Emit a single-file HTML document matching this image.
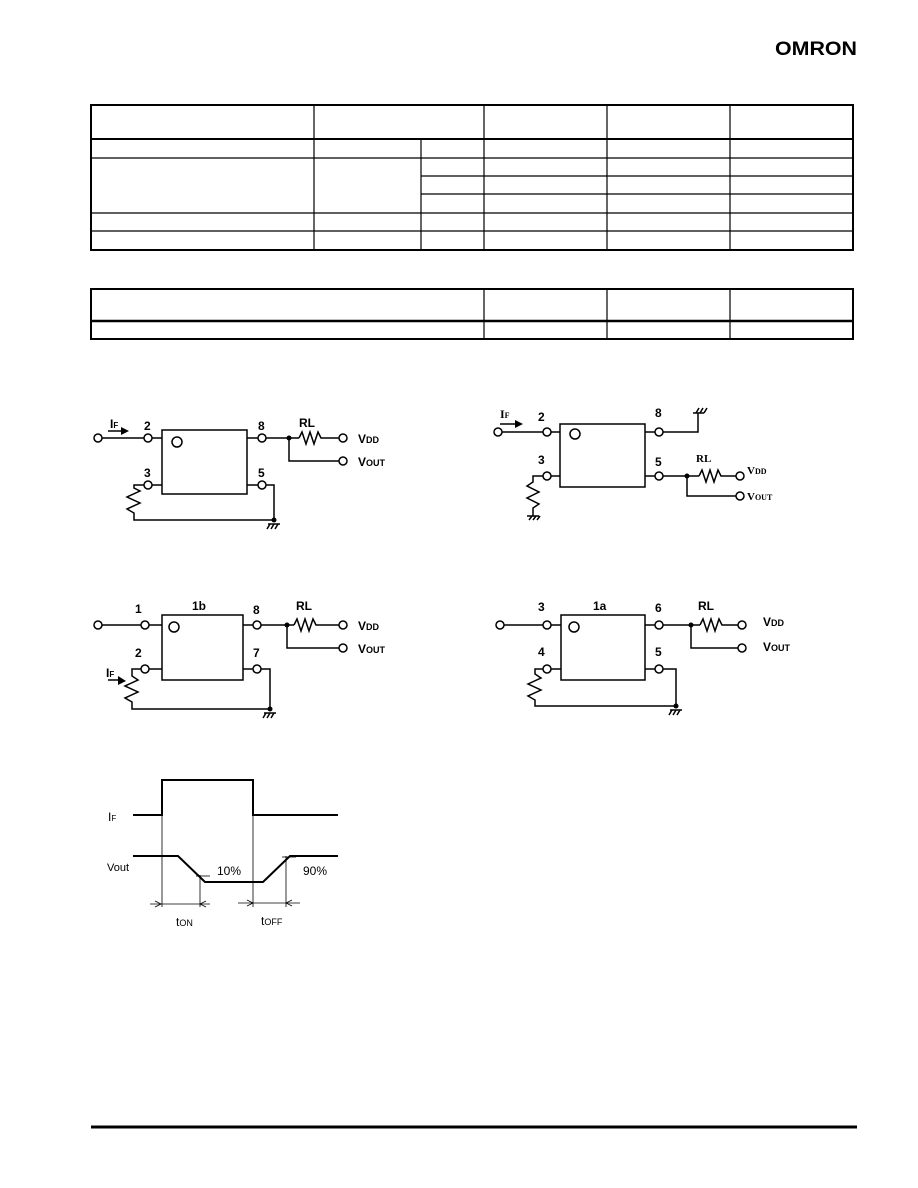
<!DOCTYPE html>
<html><head><meta charset="utf-8"><style>
body{margin:0;background:#fff;}
svg{display:block;font-family:"Liberation Sans",Arial,sans-serif;}
</style></head><body>
<svg width="918" height="1188" viewBox="0 0 918 1188" xmlns="http://www.w3.org/2000/svg">
<text x="775" y="55" font-size="19" font-weight="bold" textLength="82" lengthAdjust="spacingAndGlyphs">OMRON</text>
<g stroke="#000" fill="none">
<rect x="91" y="105" width="762" height="145" stroke-width="2"/>
<line x1="91" y1="139" x2="853" y2="139" stroke-width="2"/>
<line x1="91" y1="158" x2="853" y2="158" stroke-width="1.2"/>
<line x1="421" y1="176" x2="853" y2="176" stroke-width="1.2"/>
<line x1="421" y1="194" x2="853" y2="194" stroke-width="1.2"/>
<line x1="91" y1="213" x2="853" y2="213" stroke-width="1.2"/>
<line x1="91" y1="231" x2="853" y2="231" stroke-width="1.2"/>
<line x1="314" y1="105" x2="314" y2="250" stroke-width="1.2"/>
<line x1="421" y1="139" x2="421" y2="250" stroke-width="1.2"/>
<line x1="484" y1="105" x2="484" y2="250" stroke-width="1.2"/>
<line x1="607" y1="105" x2="607" y2="250" stroke-width="1.2"/>
<line x1="730" y1="105" x2="730" y2="250" stroke-width="1.2"/>
<rect x="91" y="289" width="762" height="50" stroke-width="2"/>
<line x1="91" y1="321" x2="853" y2="321" stroke-width="2.5"/>
<line x1="484" y1="289" x2="484" y2="339" stroke-width="1.2"/>
<line x1="607" y1="289" x2="607" y2="339" stroke-width="1.2"/>
<line x1="730" y1="289" x2="730" y2="339" stroke-width="1.2"/>
<line x1="91" y1="1127" x2="857" y2="1127" stroke-width="3"/>
</g>

<!-- Circuit 1 -->
<g stroke="#000" fill="none" stroke-width="1.5">
<rect x="162" y="430" width="85" height="64"/>
<circle cx="177" cy="442" r="5"/>
<circle cx="98" cy="438" r="4"/><line x1="102" y1="438" x2="144" y2="438"/>
<circle cx="148" cy="438" r="4"/><line x1="152" y1="438" x2="162" y2="438"/>
<circle cx="148" cy="485" r="4"/><line x1="152" y1="485" x2="162" y2="485"/>
<circle cx="262" cy="438" r="4"/><line x1="247" y1="438" x2="258" y2="438"/>
<circle cx="262" cy="485" r="4"/><line x1="247" y1="485" x2="258" y2="485"/>
<line x1="266" y1="438" x2="299" y2="438"/>
<polyline points="299,438 302,432 306,444 310,432 314,444 318,432 321,438 339,438"/>
<circle cx="343" cy="438" r="4"/>
<polyline points="289,438 289,461 339,461"/><circle cx="343" cy="461" r="4"/>
<polyline points="266,485 274,485 274,520 134,520 134,513 127,509 140,503 127,497 140,491 134,488 134,485 144,485"/>
<line x1="268" y1="524" x2="280" y2="524"/>
<line x1="270" y1="524" x2="267" y2="529"/><line x1="274" y1="524" x2="271" y2="529"/><line x1="278" y1="524" x2="275" y2="529"/>
<line x1="108" y1="431" x2="122" y2="431"/>
</g>
<circle cx="289" cy="438" r="2.5"/><circle cx="274" cy="520" r="2.5"/>
<polygon points="121,427 129,431 121,435"/>
<g font-size="12" font-weight="bold">
<text x="110" y="428">I<tspan font-size="8">F</tspan></text>
<text x="144" y="430">2</text><text x="144" y="477">3</text>
<text x="258" y="430">8</text><text x="258" y="477">5</text>
<text x="299" y="427">RL</text>
<text x="358" y="443">V<tspan font-size="9">DD</tspan></text>
<text x="358" y="466">V<tspan font-size="9">OUT</tspan></text>
</g>

<!-- Circuit 2 -->
<g stroke="#000" fill="none" stroke-width="1.5">
<rect x="560" y="424" width="85" height="63"/>
<circle cx="575" cy="434" r="5"/>
<circle cx="498" cy="432" r="4"/><line x1="502" y1="432" x2="543" y2="432"/>
<circle cx="547" cy="432" r="4"/><line x1="551" y1="432" x2="560" y2="432"/>
<circle cx="547" cy="476" r="4"/><line x1="551" y1="476" x2="560" y2="476"/>
<circle cx="659" cy="432" r="4"/><line x1="645" y1="432" x2="655" y2="432"/>
<circle cx="659" cy="476" r="4"/><line x1="645" y1="476" x2="655" y2="476"/>
<polyline points="663,432 698,432 698,413"/>
<line x1="693" y1="413" x2="704" y2="413"/>
<line x1="696" y1="413" x2="699" y2="408"/><line x1="700" y1="413" x2="703" y2="408"/><line x1="704" y1="413" x2="707" y2="408"/>
<line x1="663" y1="476" x2="699" y2="476"/>
<polyline points="699,476 702,470 706,482 710,470 714,482 718,470 721,476 736,476"/>
<circle cx="740" cy="476" r="4"/>
<polyline points="687,476 687,496 736,496"/><circle cx="740" cy="496" r="4"/>
<polyline points="543,476 533,476 533,482 527,486 539,492 527,498 539,504 533,508 533,516"/>
<line x1="527" y1="516" x2="539" y2="516"/>
<line x1="529" y1="520" x2="532" y2="516"/><line x1="533" y1="520" x2="536" y2="516"/><line x1="537" y1="520" x2="540" y2="516"/>
<line x1="500" y1="424" x2="516" y2="424"/>
</g>
<circle cx="687" cy="476" r="2.5"/>
<polygon points="515,420 523,424 515,428"/>
<g font-size="12" font-weight="bold">
<text x="500" y="418" font-family="Liberation Serif,serif">I<tspan font-size="8">F</tspan></text>
<text x="538" y="421">2</text><text x="538" y="464">3</text>
<text x="655" y="417">8</text><text x="655" y="466">5</text>
<text x="696" y="462" font-family="Liberation Serif,serif" font-size="11">RL</text>
<text x="747" y="474" font-family="Liberation Serif,serif" font-size="11">V<tspan font-size="8">DD</tspan></text>
<text x="747" y="500" font-family="Liberation Serif,serif" font-size="11">V<tspan font-size="8">OUT</tspan></text>
</g>

<!-- Circuit 3 -->
<g stroke="#000" fill="none" stroke-width="1.5">
<rect x="162" y="615" width="81" height="65"/>
<circle cx="174" cy="627" r="5"/>
<circle cx="98" cy="625" r="4"/><line x1="102" y1="625" x2="141" y2="625"/>
<circle cx="145" cy="625" r="4"/><line x1="149" y1="625" x2="162" y2="625"/>
<circle cx="145" cy="669" r="4"/><line x1="149" y1="669" x2="162" y2="669"/>
<circle cx="257" cy="625" r="4"/><line x1="243" y1="625" x2="253" y2="625"/>
<circle cx="257" cy="669" r="4"/><line x1="243" y1="669" x2="253" y2="669"/>
<line x1="261" y1="625" x2="294" y2="625"/>
<polyline points="294,625 297,619 301,631 305,619 309,631 313,619 316,625 339,625"/>
<circle cx="343" cy="625" r="4"/>
<polyline points="287,625 287,648 339,648"/><circle cx="343" cy="648" r="4"/>
<polyline points="261,669 270,669 270,709 132,709 132,702 125,698 138,692 125,686 138,680 132,676 132,669 141,669"/>
<line x1="264" y1="713" x2="276" y2="713"/>
<line x1="266" y1="713" x2="263" y2="718"/><line x1="270" y1="713" x2="267" y2="718"/><line x1="274" y1="713" x2="271" y2="718"/>
<line x1="108" y1="680" x2="118" y2="680"/>
</g>
<circle cx="287" cy="625" r="2.5"/><circle cx="270" cy="709" r="2.5"/>
<polygon points="118,676 126,681 118,685"/>
<g font-size="12" font-weight="bold">
<text x="106" y="677">I<tspan font-size="8">F</tspan></text>
<text x="135" y="613">1</text><text x="135" y="657">2</text>
<text x="192" y="610">1b</text>
<text x="253" y="614">8</text><text x="253" y="657">7</text>
<text x="296" y="610">RL</text>
<text x="358" y="630">V<tspan font-size="9">DD</tspan></text>
<text x="358" y="653">V<tspan font-size="9">OUT</tspan></text>
</g>

<!-- Circuit 4 -->
<g stroke="#000" fill="none" stroke-width="1.5">
<rect x="561" y="615" width="84" height="65"/>
<circle cx="574" cy="627" r="5"/>
<circle cx="500" cy="625" r="4"/><line x1="504" y1="625" x2="543" y2="625"/>
<circle cx="547" cy="625" r="4"/><line x1="551" y1="625" x2="561" y2="625"/>
<circle cx="547" cy="669" r="4"/><line x1="551" y1="669" x2="561" y2="669"/>
<circle cx="659" cy="625" r="4"/><line x1="645" y1="625" x2="655" y2="625"/>
<circle cx="659" cy="669" r="4"/><line x1="645" y1="669" x2="655" y2="669"/>
<line x1="663" y1="625" x2="700" y2="625"/>
<polyline points="700,625 703,619 707,631 711,619 715,631 719,619 722,625 738,625"/>
<circle cx="742" cy="625" r="4"/>
<polyline points="691,625 691,648 738,648"/><circle cx="742" cy="648" r="4"/>
<polyline points="663,669 676,669 676,706 535,706 535,700 528,696 541,690 528,684 541,678 535,674 535,669 543,669"/>
<line x1="670" y1="710" x2="682" y2="710"/>
<line x1="672" y1="710" x2="669" y2="715"/><line x1="676" y1="710" x2="673" y2="715"/><line x1="680" y1="710" x2="677" y2="715"/>
</g>
<circle cx="691" cy="625" r="2.5"/><circle cx="676" cy="706" r="2.5"/>
<g font-size="12" font-weight="bold">
<text x="538" y="611">3</text><text x="538" y="656">4</text>
<text x="593" y="610">1a</text>
<text x="655" y="612">6</text><text x="655" y="656">5</text>
<text x="698" y="610">RL</text>
<text x="763" y="626">V<tspan font-size="9">DD</tspan></text>
<text x="763" y="651">V<tspan font-size="9">OUT</tspan></text>
</g>

<!-- Waveform -->
<g stroke="#000" fill="none">
<polyline points="133,815 162,815 162,780 253,780 253,815 338,815" stroke-width="2"/>
<polyline points="133,856 178,856 205,882 263,882 290,856 338,856" stroke-width="2"/>
<g stroke-width="0.8">
<line x1="162" y1="815" x2="162" y2="907"/>
<line x1="253" y1="815" x2="253" y2="907"/>
<line x1="200" y1="875" x2="200" y2="907"/>
<line x1="286" y1="856" x2="286" y2="907"/>
<line x1="196" y1="876" x2="210" y2="876"/>
<line x1="282" y1="857" x2="296" y2="857"/>
<line x1="150" y1="904" x2="210" y2="904"/>
<line x1="238" y1="903" x2="300" y2="903"/>
<polyline points="155,901 161,904 155,907"/>
<polyline points="206,901 200,904 206,907"/>
<polyline points="247,900 253,903 247,906"/>
<polyline points="292,900 286,903 292,906"/>
</g>
</g>
<g font-size="12">
<text x="108" y="821" font-size="12">I<tspan font-size="8">F</tspan></text>
<text x="107" y="871" font-size="11">Vout</text>
<text x="217" y="875">10%</text>
<text x="303" y="875">90%</text>
<text x="176" y="926">t<tspan font-size="9">ON</tspan></text>
<text x="261" y="925">t<tspan font-size="9">OFF</tspan></text>
</g>
</svg>
</body></html>
